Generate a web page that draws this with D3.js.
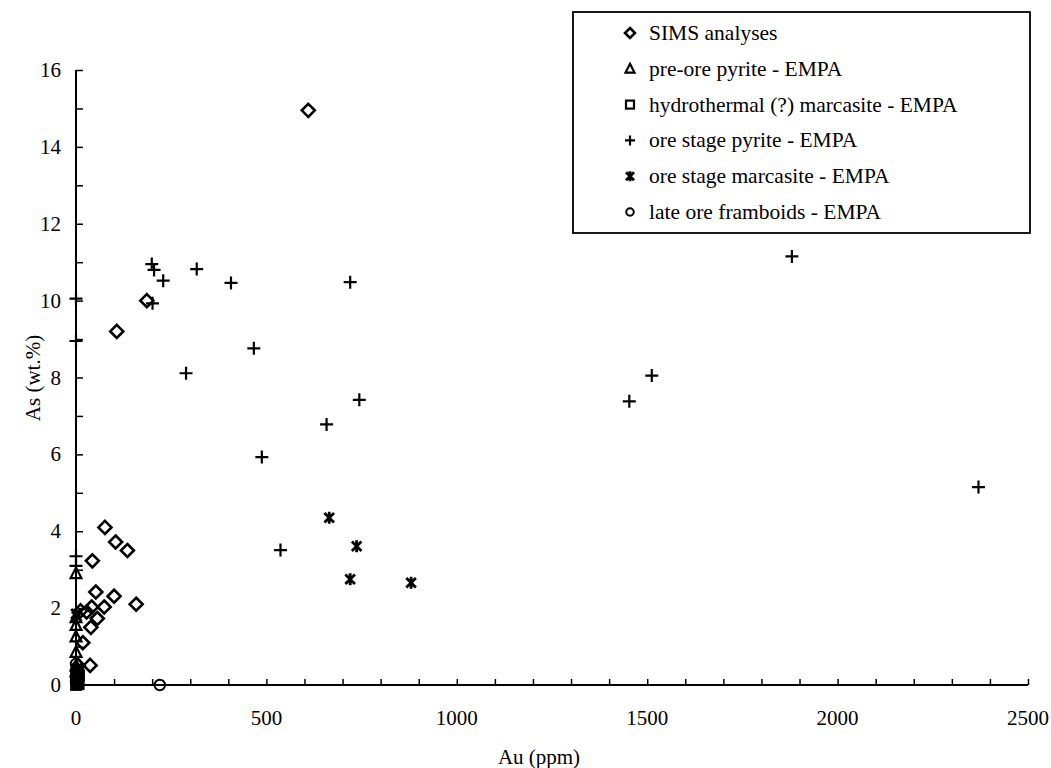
<!DOCTYPE html>
<html><head><meta charset="utf-8">
<script src="https://cdn.jsdelivr.net/npm/d3@7"></script>
<style>body{margin:0;background:#fff}svg{display:block}</style>
</head><body>
<svg id="c" width="1051" height="768"></svg>
<script>
// Data (Au ppm, As wt.%)
const simsAu = [610, 186, 107, 76, 104, 135, 43, 52, 100, 158, 41, 74, 28, 56, 39, 18, 37, 12, 6];
const simsAs = [14.95, 10.0, 9.2, 4.1, 3.72, 3.5, 3.23, 2.42, 2.31, 2.1, 2.03, 2.03, 1.9, 1.73, 1.5, 1.1, 0.51, 1.93, 0.5];
const preOreAu = [0, 0, 0, 0, 0, 0, 0];
const preOreAs = [2.9, 1.75, 1.55, 1.25, 0.85, 0.5, 0.35];
const hydroAu = [0, 3, 6, 0, 4, 8, 0, 5, 2, 7];
const hydroAs = [0, 0.05, 0.1, 0.15, 0.2, 0.25, 0.3, 0.35, 0.4, 0.02];
const orePyAu = [199, 205, 229, 317, 407, 720, 201, 467, 289, 744, 658, 1512, 1453, 537, 488, 1880, 2370, 0, 0, 0, 0];
const orePyAs = [10.95, 10.8, 10.52, 10.82, 10.46, 10.48, 9.93, 8.76, 8.11, 7.42, 6.78, 8.05, 7.38, 3.51, 5.93, 11.15, 5.15, 3.35, 3.1, 10.05, 8.95];
const oreMarcAu = [665, 737, 720, 880, 0, 2];
const oreMarcAs = [4.35, 3.61, 2.75, 2.66, 1.85, 1.78];
const framAu = [220, 0, 3, 0];
const framAs = [0, 0.55, 0.3, 0.1];
const xTicks = [0, 500, 1000, 1500, 2000, 2500];
const yTicks = [0, 2, 4, 6, 8, 10, 12, 14, 16];
const legendLabels = ["SIMS analyses", "pre-ore pyrite - EMPA", "hydrothermal (?) marcasite - EMPA", "ore stage pyrite - EMPA", "ore stage marcasite - EMPA", "late ore framboids - EMPA"];

const svg = d3.select("#c");
const font = "'Liberation Serif', 'Times New Roman', serif";
const x = d3.scaleLinear().domain([0, 2500]).range([76, 1028]);
const y = d3.scaleLinear().domain([0, 16]).range([685, 70]);

// axes
const xAxis = svg.append("g").attr("transform", "translate(0,685)")
  .call(d3.axisBottom(x).tickValues(d3.range(0, 2501, 100)).tickSize(-6).tickFormat(""));
const yAxis = svg.append("g").attr("transform", "translate(76,0)")
  .call(d3.axisLeft(y).tickValues(d3.range(0, 17, 1)).tickSize(-7).tickFormat(""));
[xAxis, yAxis].forEach(g => {
  g.select(".domain").attr("stroke", "#000").attr("stroke-width", 2);
  g.selectAll(".tick line").attr("stroke", "#000").attr("stroke-width", 1.5);
});
xAxis.select(".domain").attr("d", "M76,0H1028");
yAxis.select(".domain").attr("d", "M0,685V70");

svg.append("g").selectAll("text").data(xTicks).join("text")
  .attr("x", d => x(d)).attr("y", 725).attr("text-anchor", "middle")
  .attr("font-family", font).attr("font-size", 21).text(d => d);
svg.append("g").selectAll("text").data(yTicks).join("text")
  .attr("x", 61).attr("y", d => y(d) + 7).attr("text-anchor", "end")
  .attr("font-family", font).attr("font-size", 21).text(d => d);
svg.append("text").attr("x", 539).attr("y", 764).attr("text-anchor", "middle")
  .attr("font-family", font).attr("font-size", 21).text("Au (ppm)");
svg.append("text").attr("transform", "translate(40,378) rotate(-90)").attr("text-anchor", "middle")
  .attr("font-family", font).attr("font-size", 21).text("As (wt.%)");

// symbol drawing
function drawSym(g, type, s) {
  if (type === "diamond") {
    g.append("path").attr("d", `M0,${-s}L${s},0L0,${s}L${-s},0Z`).attr("fill", "none").attr("stroke", "#000").attr("stroke-width", 2.6);
  } else if (type === "triangle") {
    g.append("path").attr("d", `M0,${-s}L${s*0.9},${s*0.75}L${-s*0.9},${s*0.75}Z`).attr("fill", "none").attr("stroke", "#000").attr("stroke-width", 2.2);
  } else if (type === "square") {
    g.append("rect").attr("x", -s*0.8).attr("y", -s*0.8).attr("width", s*1.6).attr("height", s*1.6).attr("fill", "none").attr("stroke", "#000").attr("stroke-width", 2.2);
  } else if (type === "plus") {
    g.append("path").attr("d", `M${-s},0H${s}M0,${-s}V${s}`).attr("stroke", "#000").attr("stroke-width", 2.2);
  } else if (type === "star") {
    g.append("path").attr("d", `M${-s*0.8},${-s*0.8}L${s*0.8},${s*0.8}M${s*0.8},${-s*0.8}L${-s*0.8},${s*0.8}M0,${-s}V${s}`).attr("stroke", "#000").attr("stroke-width", 2.8);
  } else if (type === "circle") {
    g.append("circle").attr("r", s*0.75).attr("fill", "none").attr("stroke", "#000").attr("stroke-width", 2);
  }
}
const series = [
  {type: "diamond", au: simsAu, as: simsAs, s: 6.5},
  {type: "triangle", au: preOreAu, as: preOreAs, s: 6},
  {type: "square", au: hydroAu, as: hydroAs, s: 6},
  {type: "plus", au: orePyAu, as: orePyAs, s: 6.5},
  {type: "star", au: oreMarcAu, as: oreMarcAs, s: 6},
  {type: "circle", au: framAu, as: framAs, s: 7}
];
series.forEach(sr => {
  const g = svg.append("g");
  sr.au.forEach((a, i) => {
    const p = g.append("g").attr("transform", `translate(${x(a)},${y(sr.as[i])})`);
    drawSym(p, sr.type, sr.s);
  });
});

// legend
const lg = svg.append("g");
lg.append("rect").attr("x", 573).attr("y", 12).attr("width", 457).attr("height", 221)
  .attr("fill", "#fff").attr("stroke", "#000").attr("stroke-width", 1.8);
const lTypes = ["diamond", "triangle", "square", "plus", "star", "circle"];
legendLabels.forEach((t, i) => {
  const cy = 33 + i * 35.8;
  const p = lg.append("g").attr("transform", `translate(630,${cy})`);
  drawSym(p, lTypes[i], 5);
  lg.append("text").attr("x", 649).attr("y", cy + 7).attr("font-family", font).attr("font-size", 21.5).text(t);
});
</script>
</body></html>
